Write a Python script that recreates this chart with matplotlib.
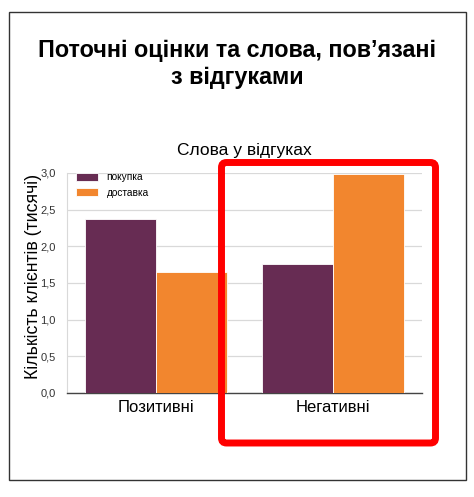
import matplotlib.pyplot as plt
from matplotlib.patches import Rectangle, FancyBboxPatch
from matplotlib.ticker import FuncFormatter
import numpy as np

plt.rcParams['font.family'] = ['Liberation Sans', 'DejaVu Sans']

# data
groups = ["Позитивні", "Негативні"]
series_names = ["покупка", "доставка"]
purchase = [2.37, 1.76]
delivery = [1.65, 2.99]
colors = ["#672C53", "#F2862E"]

W, H = 474, 497
fig = plt.figure(figsize=(W / 100, H / 100), dpi=100)
fig.patch.set_facecolor("white")

# outer frame
fig.add_artist(Rectangle((9 / W, 1 - 480 / H), 457 / W, 468 / H, transform=fig.transFigure,
                         fill=False, edgecolor="#333333", linewidth=1.0))

fig.text(0.5, 1 - 64 / H, "Поточні оцінки та слова, пов’язані\nз відгуками",
         ha="center", va="center", fontsize=16.8, fontweight="bold", linespacing=1.2)

ax = fig.add_axes([67 / W, 1 - 393 / H, 355 / W, 220 / H])
x = np.arange(len(groups))
w = 0.4
ax.bar(x - w / 2, purchase, w, color=colors[0], label=series_names[0], zorder=3,
       edgecolor="white", linewidth=0.6)
ax.bar(x + w / 2, delivery, w, color=colors[1], label=series_names[1], zorder=3,
       edgecolor="white", linewidth=0.6)

ax.set_xlim(-0.5, 1.5)
ax.set_ylim(0, 3.0)
ax.set_yticks(np.arange(0, 3.01, 0.5))
ax.yaxis.set_major_formatter(FuncFormatter(lambda v, p: f"{v:.1f}".replace(".", ",")))
ax.set_xticks(x)
ax.set_xticklabels(groups, fontsize=12)
ax.tick_params(axis="x", length=0, pad=5)
ax.tick_params(axis="y", length=0, labelsize=8, pad=8, colors="#333333")
ax.grid(axis="y", color="#d9d9d9", linewidth=0.9, zorder=0)
for s in ["top", "right"]:
    ax.spines[s].set_visible(False)
ax.spines["left"].set_color("#d9d9d9")
ax.spines["bottom"].set_color("#444444")
ax.spines["bottom"].set_linewidth(1.0)

ax.set_ylabel("Кількість клієнтів (тисячі)", fontsize=12.8)
ax.yaxis.set_label_coords(-(67 - 42) / 355, (393 - 276) / 220)

ax.text(0.5, 1 + (173 - 150) / 220, "Слова у відгуках", transform=ax.transAxes,
        ha="center", va="center", fontsize=12.5)

ax.legend(loc="upper left", bbox_to_anchor=(0.0, 1.045), frameon=False, fontsize=7.3,
          handlelength=2.2, handleheight=0.8, labelspacing=0.55)

# red highlight box around the negative group
fig.add_artist(FancyBboxPatch((221.5 / 100, (H - 443) / 100), 2.14, 2.805,
                              boxstyle="round,pad=0,rounding_size=0.05",
                              transform=fig.dpi_scale_trans, fill=False,
                              edgecolor="#FF0000", linewidth=5.0, zorder=10))

fig.savefig("out.png", dpi=100)
